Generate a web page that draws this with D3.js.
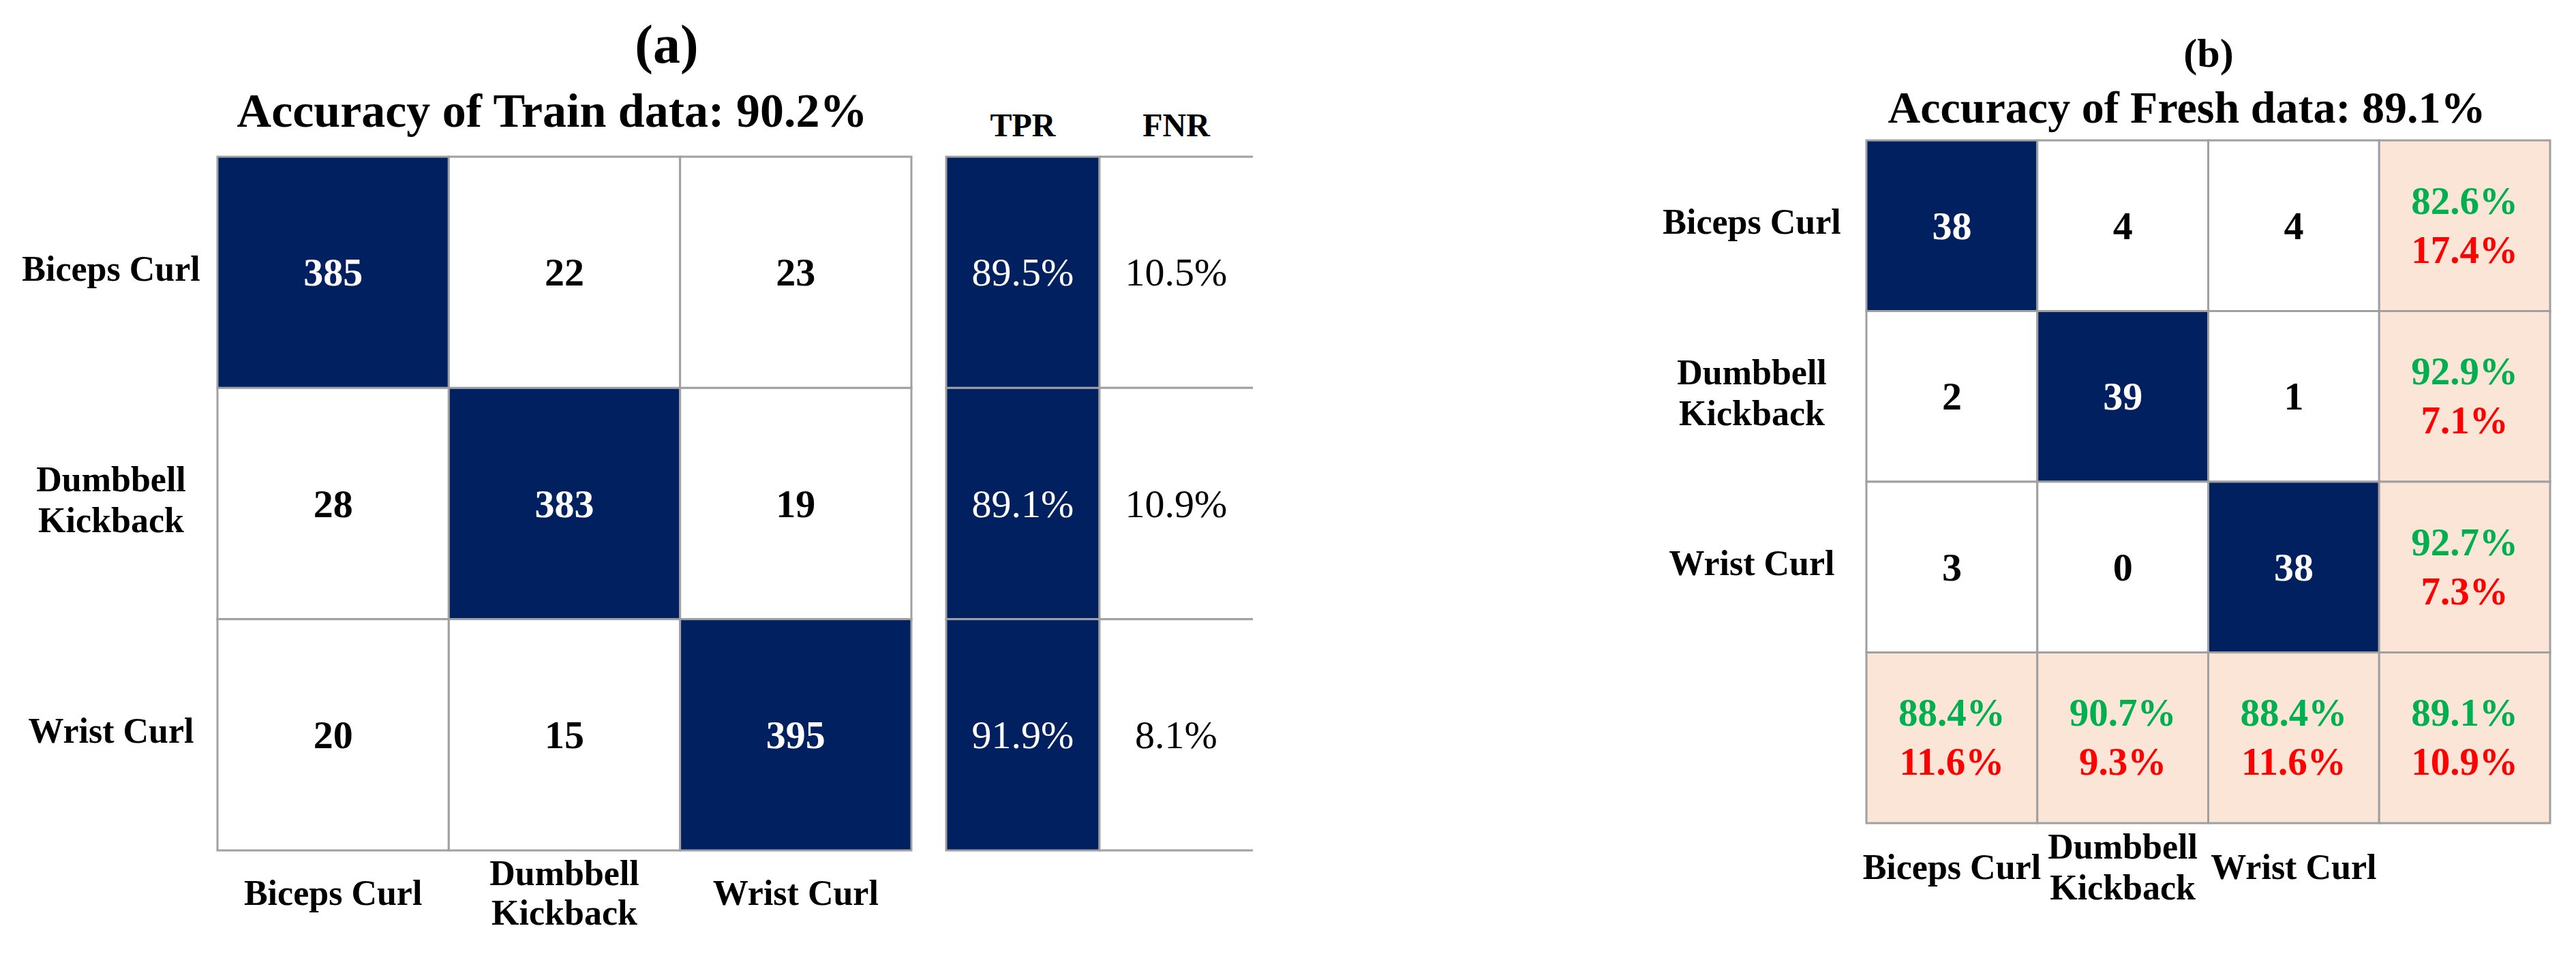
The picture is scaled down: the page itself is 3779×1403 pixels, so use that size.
<!DOCTYPE html>
<html>
<head>
<meta charset="utf-8">
<script src="https://cdn.jsdelivr.net/npm/d3@7"></script>
<style>
  body { margin: 0; background: #fff; }
  text { font-family: "Liberation Serif", "Times New Roman", serif; }
</style>
</head>
<body>
<div id="chart-area"></div>
<script>
// ---- data ----
var classes = ["Biceps Curl", "Dumbbell Kickback", "Wrist Curl"];
var classLines = {"Biceps Curl": ["Biceps Curl"], "Dumbbell Kickback": ["Dumbbell", "Kickback"], "Wrist Curl": ["Wrist Curl"]};

var trainMatrix = [[385, 22, 23], [28, 383, 19], [20, 15, 395]];
var trainAccuracy = 90.2;
var rateNames = ["TPR", "FNR"];
var trainTPR = [89.5, 89.1, 91.9];
var trainFNR = [10.5, 10.9, 8.1];

var freshMatrix = [[38, 4, 4], [2, 39, 1], [3, 0, 38]];
var freshAccuracy = 89.1;
var freshError = 10.9;
var freshRowTPR = [82.6, 92.9, 92.7];
var freshRowFNR = [17.4, 7.1, 7.3];
var freshColPPV = [88.4, 90.7, 88.4];
var freshColFDR = [11.6, 9.3, 11.6];

var navy = "#002060", peach = "#FBE5D6", green = "#00B050", red = "#FF0000", grid = "#A0A0A0";
var pct = d => d.toFixed(1) + "%";

var svg = d3.select("#chart-area").append("svg").attr("width", 3779).attr("height", 1403);

// ---- panel (a) ----
var ga = svg.append("g");
var xa = d3.scaleBand().domain(classes).range([319, 1337]);
var ya = d3.scaleBand().domain(classes).range([230, 1248]);
var xr = d3.scaleBand().domain(rateNames).range([1388, 1838]);

var cellsA = [];
trainMatrix.forEach((row, i) => row.forEach((v, j) => cellsA.push({r: classes[i], c: classes[j], v: v, diag: i == j})));

ga.selectAll("rect.cell").data(cellsA).enter().append("rect")
	.attr("class", "cell")
	.attr("x", d => xa(d.c)).attr("y", d => ya(d.r))
	.attr("width", xa.bandwidth()).attr("height", ya.bandwidth())
	.attr("fill", d => d.diag ? navy : "#fff")
	.attr("stroke", grid).attr("stroke-width", 3);

ga.selectAll("text.val").data(cellsA).enter().append("text")
	.attr("x", d => xa(d.c) + xa.bandwidth() / 2)
	.attr("y", d => ya(d.r) + ya.bandwidth() / 2)
	.attr("text-anchor", "middle").attr("dominant-baseline", "central")
	.attr("font-size", "58px").attr("font-weight", "bold")
	.attr("fill", d => d.diag ? "#fff" : "#000")
	.text(d => d.v);

var rates = [];
classes.forEach((c, i) => {
	rates.push({r: c, k: "TPR", v: trainTPR[i]});
	rates.push({r: c, k: "FNR", v: trainFNR[i]});
});

var rw = xr.bandwidth(), rh = ya.bandwidth();
ga.selectAll("rect.rate").data(rates).enter().append("rect")
	.attr("class", "rate")
	.attr("x", d => xr(d.k)).attr("y", d => ya(d.r))
	.attr("width", rw).attr("height", rh)
	.attr("fill", d => d.k == "TPR" ? navy : "#fff")
	.attr("stroke", grid).attr("stroke-width", 3)
	// FNR column is open on its right side
	.attr("stroke-dasharray", d => d.k == "FNR" ? [rw, rh, rw + rh].join(",") : null);

ga.selectAll("text.rate").data(rates).enter().append("text")
	.attr("x", d => xr(d.k) + xr.bandwidth() / 2)
	.attr("y", d => ya(d.r) + ya.bandwidth() / 2)
	.attr("text-anchor", "middle").attr("dominant-baseline", "central")
	.attr("font-size", "58px")
	.attr("fill", d => d.k == "TPR" ? "#fff" : "#000")
	.text(d => pct(d.v));

ga.selectAll("text.ratehead").data(rateNames).enter().append("text")
	.attr("x", d => xr(d) + xr.bandwidth() / 2)
	.attr("y", 200)
	.attr("text-anchor", "middle")
	.attr("font-size", "48px").attr("font-weight", "bold")
	.text(d => d);

function multiLine(sel, lines, spacing) {
	lines.forEach((l, k) => {
		sel.append("tspan")
			.attr("x", sel.attr("x"))
			.attr("dy", k == 0 ? -(lines.length - 1) * spacing / 2 : spacing)
			.text(l);
	});
}

// row labels (a)
ga.selectAll("text.rowlab").data(classes).enter().append("text")
	.attr("x", 163)
	.attr("y", d => ya(d) + ya.bandwidth() / 2 - 6)
	.attr("text-anchor", "middle").attr("dominant-baseline", "central")
	.attr("font-size", "52px").attr("font-weight", "bold")
	.each(function(d) { multiLine(d3.select(this), classLines[d], 60); });

// column labels (a)
ga.selectAll("text.collab").data(classes).enter().append("text")
	.attr("x", d => xa(d) + xa.bandwidth() / 2)
	.attr("y", 1310)
	.attr("text-anchor", "middle").attr("dominant-baseline", "central")
	.attr("font-size", "52px").attr("font-weight", "bold")
	.each(function(d) { multiLine(d3.select(this), classLines[d], 58); });

ga.append("text")
	.attr("x", 978).attr("y", 65)
	.attr("text-anchor", "middle").attr("dominant-baseline", "central")
	.attr("font-size", "80px").attr("font-weight", "bold")
	.text("(a)");

ga.append("text")
	.attr("x", 810).attr("y", 186)
	.attr("text-anchor", "middle")
	.attr("font-size", "70px").attr("font-weight", "bold")
	.text("Accuracy of Train data: " + pct(trainAccuracy));

// ---- panel (b) ----
var gb = svg.append("g");
var colsB = classes.concat(["Total"]);
var xb = d3.scaleBand().domain(colsB).range([2738, 3741]);
var yb = d3.scaleBand().domain(colsB).range([206, 1208]);

var cellsB = [];
freshMatrix.forEach((row, i) => row.forEach((v, j) => cellsB.push({r: classes[i], c: classes[j], v: v, diag: i == j})));

gb.selectAll("rect.cell").data(cellsB).enter().append("rect")
	.attr("x", d => xb(d.c)).attr("y", d => yb(d.r))
	.attr("width", xb.bandwidth()).attr("height", yb.bandwidth())
	.attr("fill", d => d.diag ? navy : "#fff")
	.attr("stroke", grid).attr("stroke-width", 3);

gb.selectAll("text.val").data(cellsB).enter().append("text")
	.attr("x", d => xb(d.c) + xb.bandwidth() / 2)
	.attr("y", d => yb(d.r) + yb.bandwidth() / 2)
	.attr("text-anchor", "middle").attr("dominant-baseline", "central")
	.attr("font-size", "58px").attr("font-weight", "bold")
	.attr("fill", d => d.diag ? "#fff" : "#000")
	.text(d => d.v);

// margin cells: right column (per row), bottom row (per column), corner
var margins = [];
classes.forEach((c, i) => margins.push({r: c, c: "Total", good: freshRowTPR[i], bad: freshRowFNR[i]}));
classes.forEach((c, j) => margins.push({r: "Total", c: c, good: freshColPPV[j], bad: freshColFDR[j]}));
margins.push({r: "Total", c: "Total", good: freshAccuracy, bad: freshError});

gb.selectAll("rect.margin").data(margins).enter().append("rect")
	.attr("x", d => xb(d.c)).attr("y", d => yb(d.r))
	.attr("width", xb.bandwidth()).attr("height", yb.bandwidth())
	.attr("fill", peach)
	.attr("stroke", grid).attr("stroke-width", 3);

gb.selectAll("text.good").data(margins).enter().append("text")
	.attr("x", d => xb(d.c) + xb.bandwidth() / 2)
	.attr("y", d => yb(d.r) + yb.bandwidth() / 2 - 37)
	.attr("text-anchor", "middle").attr("dominant-baseline", "central")
	.attr("font-size", "57px").attr("font-weight", "bold")
	.attr("fill", green)
	.text(d => pct(d.good));

gb.selectAll("text.bad").data(margins).enter().append("text")
	.attr("x", d => xb(d.c) + xb.bandwidth() / 2)
	.attr("y", d => yb(d.r) + yb.bandwidth() / 2 + 35)
	.attr("text-anchor", "middle").attr("dominant-baseline", "central")
	.attr("font-size", "57px").attr("font-weight", "bold")
	.attr("fill", red)
	.text(d => pct(d.bad));

gb.selectAll("text.rowlab").data(classes).enter().append("text")
	.attr("x", 2570)
	.attr("y", d => yb(d) + yb.bandwidth() / 2 - 6)
	.attr("text-anchor", "middle").attr("dominant-baseline", "central")
	.attr("font-size", "52px").attr("font-weight", "bold")
	.each(function(d) { multiLine(d3.select(this), classLines[d], 60); });

gb.selectAll("text.collab").data(classes).enter().append("text")
	.attr("x", d => xb(d) + xb.bandwidth() / 2)
	.attr("y", 1272)
	.attr("text-anchor", "middle").attr("dominant-baseline", "central")
	.attr("font-size", "52px").attr("font-weight", "bold")
	.each(function(d) { multiLine(d3.select(this), classLines[d], 60); });

gb.append("text")
	.attr("x", 3240).attr("y", 78)
	.attr("text-anchor", "middle").attr("dominant-baseline", "central")
	.attr("font-size", "60px").attr("font-weight", "bold")
	.text("(b)");

gb.append("text")
	.attr("x", 3208).attr("y", 180)
	.attr("text-anchor", "middle")
	.attr("font-size", "66px").attr("font-weight", "bold")
	.text("Accuracy of Fresh data: " + pct(freshAccuracy));
</script>
</body>
</html>
